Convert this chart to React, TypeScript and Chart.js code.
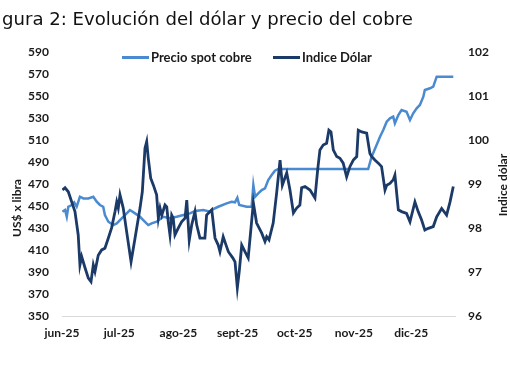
import React, { useEffect, useRef } from "react";
import { Chart, registerables } from "chart.js";

Chart.register(...registerables);

const titleText = "gura 2: Evolución del dólar y precio del cobre";
const leftAxisTitle = "US$ x libra";
const rightAxisTitle = "Indice dólar";
const cobreLabel = "Precio spot cobre";
const dolarLabel = "Indice Dólar";

// x ticks: day offsets from 1 June 2025
const monthTickDays = [0, 30, 61, 92, 122, 153, 183];
const monthTickLabels = ["jun-25", "jul-25", "ago-25", "sept-25", "oct-25", "nov-25", "dic-25"];

// Precio spot cobre (US$ cents / libra) – day offset from 1 June 2025
const cobreDays = [
  0.2, 1.6, 2.5, 3.3, 5.1, 6.4, 7.7, 9.4, 11.2, 13.8, 16.4, 18.2, 19.9, 21.6, 22.5, 24.3,
  26.9, 28.7, 31.3, 33.9, 35.6, 38.3, 40.9, 42.6, 45.2, 47.0, 49.6, 53.1, 56.6, 60.1, 63.6,
  67.1, 69.7, 74.1, 77.6, 79.3, 81.9, 86.3, 88.9, 90.7, 91.9, 92.9, 96.8, 99.4, 100.3, 101.2,
  102.9, 104.7, 106.4, 108.1, 109.9, 111.6, 113.4, 160.5, 162.3, 164.9, 166.7, 168.4, 170.2,
  171.9, 173.6, 174.5, 176.3, 178.0, 180.6, 182.4, 184.1, 185.9, 187.6, 189.4, 190.2, 192.9,
  194.6, 196.4, 205.1,
];
const cobreValues = [
  444.7, 446.2, 440.1, 449.2, 450.8, 453.2, 449.2, 458.3, 456.8, 456.8, 458.3, 453.8, 450.8,
  449.2, 441.7, 435.6, 432.6, 434.1, 438.7, 443.2, 446.2, 443.2, 440.1, 437.1, 432.6, 434.1,
  435.6, 440.1, 438.7, 440.1, 441.7, 443.2, 445.3, 446.2, 444.7, 447.1, 449.2, 452.3, 453.8,
  453.2, 457.4, 450.8, 449.2, 449.2, 468.9, 458.3, 461.4, 464.4, 465.9, 473.5, 478.0, 481.9,
  483.5, 483.5, 494.6, 505.3, 512.8, 518.9, 526.4, 529.5, 531.0, 525.0, 532.5, 537.0, 535.5,
  528.0, 534.1, 538.6, 541.6, 549.1, 555.2, 556.8, 558.2, 567.3, 567.3,
];

// Indice Dólar – day offset from 1 June 2025
const dolarDays = [
  0.2, 1.6, 3.3, 6.8, 8.5, 9.4, 10.3, 12.1, 13.8, 15.2, 16.4, 17.3, 19.0, 20.8, 22.5, 24.3,
  26.0, 27.8, 28.7, 29.5, 30.4, 32.1, 33.9, 36.2, 38.3, 40.9, 42.1, 43.5, 44.4, 45.2, 46.5,
  47.9, 49.6, 50.5, 51.4, 52.3, 54.0, 54.9, 55.7, 56.6, 57.5, 58.3, 59.2, 61.0, 62.7, 64.5,
  65.4, 66.7, 68.0, 69.7, 70.6, 72.3, 74.9, 75.8, 77.6, 78.5, 80.2, 81.9, 82.8, 84.5, 86.0,
  87.2, 89.5, 90.7, 91.9, 92.9, 94.2, 95.9, 97.6, 100.3, 102.0, 104.7, 106.4, 107.3, 108.5,
  110.7, 112.5, 114.3, 115.5, 117.8, 119.5, 121.3, 123.0, 124.7, 125.6, 127.4, 130.0, 132.6,
  134.0, 135.2, 136.9, 138.7, 139.9, 141.0, 142.2, 144.0, 145.7, 147.4, 149.2, 150.9, 152.7,
  154.5, 155.3, 157.1, 159.7, 161.4, 162.3, 164.0, 165.8, 167.5, 169.3, 170.2, 171.9, 173.6,
  174.5, 176.3, 178.0, 180.6, 182.4, 185.0, 186.7, 188.5, 190.2, 192.0, 194.6, 196.4, 199.0,
  201.6, 203.4, 205.1,
];
const dolarValues = [
  98.86, 98.91, 98.82, 98.37, 97.84, 97.16, 97.35, 97.09, 96.86, 96.78, 97.16, 97.01, 97.38,
  97.5, 97.54, 97.77, 98.0, 98.37, 98.59, 98.45, 98.75, 98.45, 97.91, 97.23, 97.77, 98.45,
  98.82, 99.81, 99.96, 99.59, 99.13, 98.97, 98.75, 98.22, 98.45, 98.29, 98.52, 98.48, 98.14,
  97.84, 98.29, 98.22, 97.84, 98.0, 98.14, 98.22, 98.63, 97.72, 98.07, 98.37, 98.07, 97.77,
  97.77, 98.29, 98.37, 98.41, 97.77, 97.61, 97.46, 97.8, 97.61, 97.46, 97.32, 97.23, 96.64,
  97.01, 97.61, 97.46, 97.32, 98.57, 98.11, 97.88, 97.69, 97.8, 97.73, 98.11, 98.79, 99.54,
  98.97, 99.25, 98.86, 98.34, 98.45, 98.52, 98.91, 98.94, 98.86, 98.68, 99.31, 99.77, 99.88,
  99.92, 100.22, 100.18, 99.77, 99.62, 99.58, 99.47, 99.16, 99.39, 99.54, 99.62, 100.22,
  100.18, 100.15, 99.69, 99.62, 99.54, 99.47, 99.39, 98.86, 98.97, 99.01, 99.09, 99.2, 98.41,
  98.37, 98.33, 98.14, 98.59, 98.37, 98.18, 97.95, 97.99, 98.03, 98.25, 98.44, 98.29, 98.59,
  98.94,
];

const cobreColor = "#4A8AD0";
const dolarColor = "#1B3A68";
const textColor = "#1a1a1a";
const tickFont = { family: "Lato", size: 12, weight: "bold" as const };

const overlayPlugin = {
  id: "overlay",
  afterDraw(chart: any) {
    const ctx: CanvasRenderingContext2D = chart.ctx;
    ctx.save();
    ctx.font = "bold 12px Lato";
    ctx.fillStyle = textColor;
    ctx.textBaseline = "middle";
    ctx.textAlign = "center";
    // axis titles
    ctx.save();
    ctx.translate(17, 208);
    ctx.rotate(-Math.PI / 2);
    ctx.fillText(leftAxisTitle, 0, 0);
    ctx.restore();
    ctx.save();
    ctx.translate(503, 185);
    ctx.rotate(-Math.PI / 2);
    ctx.fillText(rightAxisTitle, 0, 0);
    ctx.restore();
    // legend
    const legendX = [122, 273];
    const legendY = 57.5;
    ctx.textAlign = "left";
    ctx.font = "bold 13px Lato";
    chart.data.datasets.forEach((ds: any, i: number) => {
      const x = legendX[i];
      ctx.strokeStyle = ds.borderColor;
      ctx.lineWidth = 3;
      ctx.beginPath();
      ctx.moveTo(x, legendY);
      ctx.lineTo(x + 27, legendY);
      ctx.stroke();
      ctx.fillStyle = textColor;
      ctx.fillText(ds.label, x + 29, legendY);
    });
    ctx.restore();
  },
};

export default function App() {
  const canvasRef = useRef<HTMLCanvasElement | null>(null);

  useEffect(() => {
    if (!canvasRef.current) return;
    const chart = new Chart(canvasRef.current, {
      type: "line",
      data: {
        datasets: [
          {
            label: cobreLabel,
            data: cobreDays.map((d, i) => ({ x: d, y: cobreValues[i] })),
            borderColor: cobreColor,
            backgroundColor: cobreColor,
            borderWidth: 2.5,
            pointRadius: 0,
            tension: 0,
            yAxisID: "y",
            order: 2,
          },
          {
            label: dolarLabel,
            data: dolarDays.map((d, i) => ({ x: d, y: dolarValues[i] })),
            borderColor: dolarColor,
            backgroundColor: dolarColor,
            borderWidth: 2.8,
            pointRadius: 0,
            tension: 0,
            yAxisID: "y1",
            order: 1,
          },
        ],
      },
      options: {
        responsive: false,
        animation: false,
        devicePixelRatio: 1,
        layout: { padding: { top: 51.7, left: 0, right: 0, bottom: 0 } },
        plugins: {
          legend: { display: false },
          tooltip: { enabled: false },
          title: { display: false },
        },
        scales: {
          x: {
            type: "linear",
            min: 0,
            max: 206,
            afterBuildTicks: (scale: any) => {
              scale.ticks = monthTickDays.map((v) => ({ value: v }));
            },
            afterFit: (scale: any) => {
              scale.height = 54;
            },
            ticks: {
              autoSkip: false,
              maxRotation: 0,
              padding: 10,
              color: textColor,
              font: tickFont,
              callback: (v: any) => {
                const idx = monthTickDays.indexOf(Number(v));
                return idx >= 0 ? monthTickLabels[idx] : "";
              },
            },
            grid: { display: false, drawTicks: false },
            border: { display: true, color: "#d9d9d9", width: 1 },
          },
          y: {
            type: "linear",
            position: "left",
            min: 350,
            max: 590,
            afterFit: (scale: any) => {
              scale.width = 62;
            },
            ticks: { stepSize: 20, padding: 13, color: textColor, font: tickFont },
            grid: { display: false, drawTicks: false },
            border: { display: false },
          },
          y1: {
            type: "linear",
            position: "right",
            min: 96,
            max: 102,
            afterFit: (scale: any) => {
              scale.width = 55;
            },
            ticks: { stepSize: 1, padding: 13, color: textColor, font: tickFont },
            grid: { display: false, drawTicks: false },
            border: { display: false },
          },
        },
      },
      plugins: [overlayPlugin],
    });
    return () => chart.destroy();
  }, []);

  return (
    <div style={{ position: "absolute", left: 0, top: 0, width: 510, height: 370, background: "#fff", overflow: "hidden" }}>
      <canvas ref={canvasRef} width={510} height={370} style={{ position: "absolute", left: 0, top: 0, width: 510, height: 370 }} />
      <div
        style={{
          position: "absolute",
          left: 2,
          top: 8,
          fontFamily: "'DejaVu Sans', Verdana, sans-serif",
          fontSize: 18.1,
          lineHeight: "normal",
          color: "#111",
          whiteSpace: "nowrap",
        }}
      >
        {titleText}
      </div>
    </div>
  );
}
